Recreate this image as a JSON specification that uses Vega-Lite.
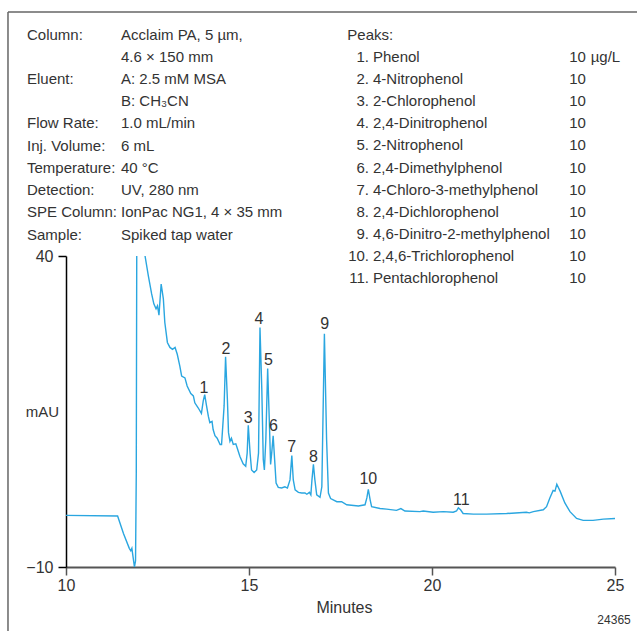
{
  "$schema": "https://vega.github.io/schema/vega-lite/v6.json",
  "width": 549,
  "height": 311,
  "autosize": {"type": "none"},
  "padding": {"left": 66, "top": 256, "right": 22, "bottom": 64},
  "background": "white",
  "config": {
    "view": {"stroke": null},
    "font": "Liberation Sans",
    "text": {"font": "Liberation Sans", "fontSize": 15, "color": "#333"}
  },
  "datasets": {
    "frame": [
      {"x": 8.415, "y": 79.23, "x2": 8.415, "y2": -40},
      {"x": 8.415, "y": 79.23, "x2": 27, "y2": 79.23}
    ],
    "trace": [
      {"x": 10.00, "y": -1.7}, {"x": 11.41, "y": -1.8}, {"x": 11.57, "y": -4.6}, {"x": 11.73, "y": -7.0},
      {"x": 11.77, "y": -7.4}, {"x": 11.80, "y": -7.0}, {"x": 11.83, "y": -8.3}, {"x": 11.87, "y": -10.0},
      {"x": 11.90, "y": -9.0}, {"x": 11.92, "y": 5}, {"x": 11.94, "y": 60}, {"x": 12.00, "y": 85},
      {"x": 12.08, "y": 60}, {"x": 12.16, "y": 40.0}, {"x": 12.25, "y": 36.8}, {"x": 12.34, "y": 33.9},
      {"x": 12.40, "y": 32.3}, {"x": 12.46, "y": 31.5}, {"x": 12.50, "y": 32.0}, {"x": 12.54, "y": 30.5},
      {"x": 12.60, "y": 35.5}, {"x": 12.66, "y": 33.1}, {"x": 12.70, "y": 29.3}, {"x": 12.77, "y": 26.1},
      {"x": 12.84, "y": 25.3}, {"x": 12.91, "y": 25.0}, {"x": 12.98, "y": 25.3}, {"x": 13.04, "y": 24.2},
      {"x": 13.11, "y": 22.3}, {"x": 13.16, "y": 20.7}, {"x": 13.25, "y": 20.4}, {"x": 13.31, "y": 19.1},
      {"x": 13.41, "y": 17.9}, {"x": 13.48, "y": 17.5}, {"x": 13.52, "y": 16.4}, {"x": 13.61, "y": 15.6},
      {"x": 13.70, "y": 14.7}, {"x": 13.75, "y": 16.7}, {"x": 13.79, "y": 17.7}, {"x": 13.84, "y": 15.9},
      {"x": 13.89, "y": 14.2}, {"x": 13.93, "y": 13.2}, {"x": 13.99, "y": 13.4}, {"x": 14.02, "y": 12.1},
      {"x": 14.07, "y": 11.1}, {"x": 14.13, "y": 10.7}, {"x": 14.21, "y": 9.7}, {"x": 14.25, "y": 9.7},
      {"x": 14.32, "y": 15.9}, {"x": 14.36, "y": 23.8}, {"x": 14.41, "y": 16.9}, {"x": 14.44, "y": 11.6},
      {"x": 14.48, "y": 10.2}, {"x": 14.52, "y": 10.7}, {"x": 14.57, "y": 9.7}, {"x": 14.64, "y": 9.8},
      {"x": 14.68, "y": 9.1}, {"x": 14.75, "y": 7.8}, {"x": 14.84, "y": 6.6}, {"x": 14.91, "y": 6.2},
      {"x": 14.95, "y": 8.3}, {"x": 14.98, "y": 12.8}, {"x": 15.03, "y": 8.3}, {"x": 15.07, "y": 5.6},
      {"x": 15.14, "y": 5.2}, {"x": 15.21, "y": 5.6}, {"x": 15.26, "y": 8.3}, {"x": 15.30, "y": 28.5},
      {"x": 15.35, "y": 18.5}, {"x": 15.39, "y": 7.3}, {"x": 15.42, "y": 5.6}, {"x": 15.46, "y": 10.5},
      {"x": 15.51, "y": 21.9}, {"x": 15.56, "y": 12.6}, {"x": 15.59, "y": 6.5}, {"x": 15.62, "y": 8.3},
      {"x": 15.66, "y": 11.1}, {"x": 15.70, "y": 7.3}, {"x": 15.74, "y": 3.5}, {"x": 15.80, "y": 2.8},
      {"x": 15.89, "y": 2.7}, {"x": 15.98, "y": 2.9}, {"x": 16.05, "y": 2.7}, {"x": 16.12, "y": 4.0},
      {"x": 16.17, "y": 7.9}, {"x": 16.21, "y": 4.0}, {"x": 16.26, "y": 2.4}, {"x": 16.35, "y": 2.0},
      {"x": 16.44, "y": 1.9}, {"x": 16.53, "y": 1.9}, {"x": 16.58, "y": 1.7}, {"x": 16.65, "y": 2.0},
      {"x": 16.69, "y": 1.6}, {"x": 16.72, "y": 4.0}, {"x": 16.76, "y": 6.5}, {"x": 16.80, "y": 4.0},
      {"x": 16.85, "y": 1.6}, {"x": 16.94, "y": 1.2}, {"x": 16.99, "y": 2.9}, {"x": 17.06, "y": 27.5},
      {"x": 17.12, "y": 10.5}, {"x": 17.17, "y": 1.9}, {"x": 17.23, "y": 1.0}, {"x": 17.40, "y": 0.5},
      {"x": 17.53, "y": 0.5}, {"x": 17.67, "y": 0.0}, {"x": 17.99, "y": -0.2}, {"x": 18.17, "y": 0.0},
      {"x": 18.22, "y": 1.1}, {"x": 18.26, "y": 2.5}, {"x": 18.31, "y": 0.8}, {"x": 18.35, "y": -0.3},
      {"x": 18.58, "y": -0.6}, {"x": 18.76, "y": -0.7}, {"x": 19.03, "y": -0.9}, {"x": 19.15, "y": -0.6},
      {"x": 19.26, "y": -1.0}, {"x": 19.67, "y": -1.1}, {"x": 19.76, "y": -1.0}, {"x": 20.03, "y": -1.2},
      {"x": 20.31, "y": -1.1}, {"x": 20.58, "y": -1.2}, {"x": 20.67, "y": -1.0}, {"x": 20.72, "y": -0.5},
      {"x": 20.78, "y": -0.8}, {"x": 20.85, "y": -1.4}, {"x": 21.13, "y": -1.5}, {"x": 21.49, "y": -1.5},
      {"x": 22.04, "y": -1.4}, {"x": 22.58, "y": -1.2}, {"x": 22.66, "y": -1.3}, {"x": 22.77, "y": -1.1},
      {"x": 23.04, "y": -0.8}, {"x": 23.13, "y": -0.3}, {"x": 23.22, "y": 1.1}, {"x": 23.31, "y": 2.3},
      {"x": 23.36, "y": 2.2}, {"x": 23.41, "y": 3.3}, {"x": 23.50, "y": 2.2}, {"x": 23.63, "y": 0.3},
      {"x": 23.77, "y": -1.1}, {"x": 23.95, "y": -2.2}, {"x": 24.13, "y": -2.5}, {"x": 24.40, "y": -2.5},
      {"x": 24.68, "y": -2.3}, {"x": 25.00, "y": -2.2}
    ],
    "info": [
      {"x": 8.934, "y": 74.78, "text": "Column:"},
      {"x": 11.503, "y": 74.78, "text": "Acclaim PA, 5 µm,"},
      {"x": 11.503, "y": 71.21, "text": "4.6 × 150 mm"},
      {"x": 8.934, "y": 67.64, "text": "Eluent:"},
      {"x": 11.503, "y": 67.64, "text": "A: 2.5 mM MSA"},
      {"x": 11.503, "y": 64.07, "text": "B: CH₃CN"},
      {"x": 8.934, "y": 60.50, "text": "Flow Rate:"},
      {"x": 11.503, "y": 60.50, "text": "1.0 mL/min"},
      {"x": 8.934, "y": 56.93, "text": "Inj. Volume:"},
      {"x": 11.503, "y": 56.93, "text": "6 mL"},
      {"x": 8.934, "y": 53.36, "text": "Temperature:"},
      {"x": 11.503, "y": 53.36, "text": "40 °C"},
      {"x": 8.934, "y": 49.79, "text": "Detection:"},
      {"x": 11.503, "y": 49.79, "text": "UV, 280 nm"},
      {"x": 8.934, "y": 46.22, "text": "SPE Column:"},
      {"x": 11.503, "y": 46.22, "text": "IonPac NG1, 4 × 35 mm"},
      {"x": 8.934, "y": 42.65, "text": "Sample:"},
      {"x": 11.503, "y": 42.65, "text": "Spiked tap water"},
      {"x": 17.686, "y": 74.78, "text": "Peaks:"},
      {"x": 18.388, "y": 71.21, "text": "Phenol"},
      {"x": 18.388, "y": 67.65, "text": "4-Nitrophenol"},
      {"x": 18.388, "y": 64.09, "text": "2-Chlorophenol"},
      {"x": 18.388, "y": 60.53, "text": "2,4-Dinitrophenol"},
      {"x": 18.388, "y": 56.97, "text": "2-Nitrophenol"},
      {"x": 18.388, "y": 53.41, "text": "2,4-Dimethylphenol"},
      {"x": 18.388, "y": 49.85, "text": "4-Chloro-3-methylphenol"},
      {"x": 18.388, "y": 46.29, "text": "2,4-Dichlorophenol"},
      {"x": 18.388, "y": 42.73, "text": "4,6-Dinitro-2-methylphenol"},
      {"x": 18.388, "y": 39.16, "text": "2,4,6-Trichlorophenol"},
      {"x": 18.388, "y": 35.60, "text": "Pentachlorophenol"},
      {"x": 23.750, "y": 71.21, "text": "10"},
      {"x": 24.336, "y": 71.21, "text": "µg/L"},
      {"x": 23.750, "y": 67.65, "text": "10"},
      {"x": 23.750, "y": 64.09, "text": "10"},
      {"x": 23.750, "y": 60.53, "text": "10"},
      {"x": 23.750, "y": 56.97, "text": "10"},
      {"x": 23.750, "y": 53.41, "text": "10"},
      {"x": 23.750, "y": 49.85, "text": "10"},
      {"x": 23.750, "y": 46.29, "text": "10"},
      {"x": 23.750, "y": 42.73, "text": "10"},
      {"x": 23.750, "y": 39.16, "text": "10"},
      {"x": 23.750, "y": 35.60, "text": "10"}
    ],
    "nums": [
      {"x": 18.279, "y": 71.21, "text": "1."},
      {"x": 18.279, "y": 67.65, "text": "2."},
      {"x": 18.279, "y": 64.09, "text": "3."},
      {"x": 18.279, "y": 60.53, "text": "4."},
      {"x": 18.279, "y": 56.97, "text": "5."},
      {"x": 18.279, "y": 53.41, "text": "6."},
      {"x": 18.279, "y": 49.85, "text": "7."},
      {"x": 18.279, "y": 46.29, "text": "8."},
      {"x": 18.279, "y": 42.73, "text": "9."},
      {"x": 18.279, "y": 39.16, "text": "10."},
      {"x": 18.279, "y": 35.60, "text": "11."}
    ],
    "peaklabels": [
      {"x": 13.77, "y": 18.02, "text": "1"},
      {"x": 14.37, "y": 24.24, "text": "2"},
      {"x": 14.98, "y": 13.10, "text": "3"},
      {"x": 15.27, "y": 29.02, "text": "4"},
      {"x": 15.53, "y": 22.48, "text": "5"},
      {"x": 15.67, "y": 11.91, "text": "6"},
      {"x": 16.17, "y": 8.44, "text": "7"},
      {"x": 16.76, "y": 6.93, "text": "8"},
      {"x": 17.07, "y": 28.22, "text": "9"},
      {"x": 18.26, "y": 3.30, "text": "10"},
      {"x": 20.80, "y": -0.03, "text": "11"}
    ],
    "fig": [
      {"x": 25.43, "y": -19.16, "text": "24365"}
    ]
  },
  "encoding": {
    "x": {
      "field": "x", "type": "quantitative",
      "scale": {"domain": [10, 25], "nice": false, "zero": false},
      "axis": {
        "values": [10, 15, 20, 25], "grid": false, "title": "Minutes",
        "titleFont": "Liberation Sans", "titleFontSize": 16, "titleFontWeight": "normal", "titleColor": "#333",
        "titleX": 278, "titleY": 45, "titleBaseline": "alphabetic", "titleAlign": "center",
        "labelFont": "Liberation Sans", "labelFontSize": 16, "labelColor": "#333", "labelPadding": 2, "labelFlush": false,
        "tickSize": 8, "tickColor": "#555", "tickWidth": 1.5, "domainColor": "#555", "domainWidth": 2
      }
    },
    "y": {
      "field": "y", "type": "quantitative",
      "scale": {"domain": [-10, 40], "nice": false, "zero": false},
      "axis": {
        "values": [-10, 40], "grid": false, "title": "mAU",
        "titleAngle": 0, "titleX": -24, "titleY": 155, "titleAlign": "center", "titleBaseline": "middle",
        "titleFont": "Liberation Sans", "titleFontSize": 15, "titleFontWeight": "normal", "titleColor": "#333",
        "labelFont": "Liberation Sans", "labelFontSize": 16, "labelColor": "#333", "labelPadding": 5,
        "tickSize": 8, "tickColor": "#000", "tickWidth": 1.5, "domainColor": "#000", "domainWidth": 1.5
      }
    }
  },
  "layer": [
    {
      "data": {"name": "frame"},
      "mark": {"type": "rule", "color": "#666", "strokeWidth": 1.5},
      "encoding": {"x2": {"field": "x2"}, "y2": {"field": "y2"}}
    },
    {
      "data": {"name": "trace"},
      "mark": {"type": "line", "color": "#2aa6e0", "strokeWidth": 1.4, "clip": true},
      "encoding": {}
    },
    {
      "data": {"name": "info"},
      "mark": {"type": "text", "align": "left", "baseline": "alphabetic"},
      "encoding": {"text": {"field": "text"}}
    },
    {
      "data": {"name": "nums"},
      "mark": {"type": "text", "align": "right", "baseline": "alphabetic"},
      "encoding": {"text": {"field": "text"}}
    },
    {
      "data": {"name": "peaklabels"},
      "mark": {"type": "text", "align": "center", "baseline": "alphabetic", "fontSize": 16},
      "encoding": {"text": {"field": "text"}}
    },
    {
      "data": {"name": "fig"},
      "mark": {"type": "text", "align": "right", "baseline": "alphabetic", "fontSize": 12},
      "encoding": {"text": {"field": "text"}}
    }
  ]
}
